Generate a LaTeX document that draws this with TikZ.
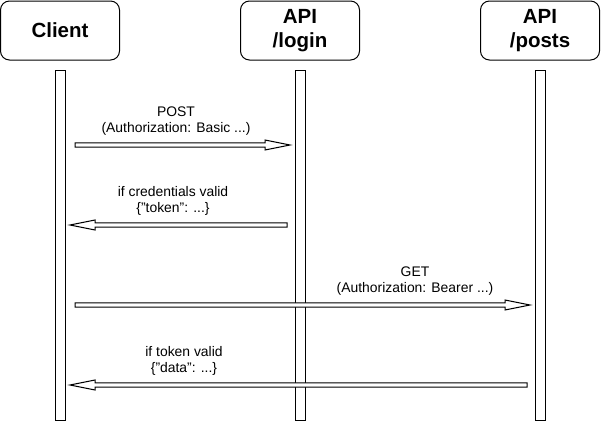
\documentclass[tikz,border=0pt]{standalone}
\usepackage{fontspec}
\setmainfont{Liberation Sans}
\usetikzlibrary{calc}
\tikzset{
  actor node/.style={
    rectangle,
    rounded corners=9pt,
    draw,
    line width=1pt,
    minimum width=119pt,
    minimum height=59pt,
    align=center,
    font=\fontsize{20.5}{24}\selectfont\bfseries,
  }
}
\tikzset{
  life node/.style={
    rectangle,
    draw,
    line width=1pt,
    minimum width=10pt,
    minimum height=350pt,
    inner sep=0pt,
  }
}
\tikzset{
  msg label/.style={
    align=center,
    inner sep=0pt,
    font=\fontsize{13.9}{16.5}\selectfont,
  }
}
\tikzset{
  message/.style={
    draw,
    fill=white,
    line width=1pt,
    to path={
      ($(\tikztostart)+(0,2.2pt)$)
      -- ($(\tikztotarget)!25pt!(\tikztostart)+(0,2.2pt)$)
      -- ($(\tikztotarget)!25pt!(\tikztostart)+(0,5pt)$)
      -- (\tikztotarget)
      -- ($(\tikztotarget)!25pt!(\tikztostart)+(0,-5pt)$)
      -- ($(\tikztotarget)!25pt!(\tikztostart)+(0,-2.2pt)$)
      -- ($(\tikztostart)+(0,-2.2pt)$)
      -- cycle
    },
  }
}

\begin{document}
\begin{tikzpicture}[
    x=1pt,
    y=-1pt,
    ]
  \useasboundingbox (0,0) rectangle (602,421);

  \node[actor node] (client) at (60,30.5) {Client};
  \node[actor node] (login) at (300,30.5) {API\\/login};
  \node[actor node] (posts) at (540,30.5) {API\\/posts};

  \foreach \x/\p in {client/60,login/300,posts/540}{
    \node[life node] (\x line) at (\p,245) {};
  }

  \coordinate (post from) at (75,145);
  \coordinate (post to) at (290,145);
  \coordinate (token from) at (287,225);
  \coordinate (token to) at (70,225);
  \coordinate (get from) at (75,305);
  \coordinate (get to) at (530,305);
  \coordinate (data from) at (527,385);
  \coordinate (data to) at (70,385);

  \foreach \a/\b in {post from/post to,token from/token to,get from/get to,data from/data to}{
    \draw[message] (\a) to (\b);
  }

  \node[msg label] (post label) at (176,121) {POST\\(Authorization: Basic ...)};
  \node[msg label] (token label) at (173,201) {if credentials valid\\\{"token": ...\}};
  \node[msg label] (get label) at (415,281) {GET\\(Authorization: Bearer ...)};
  \node[msg label] (data label) at (184,361) {if token valid\\\{"data": ...\}};

\end{tikzpicture}
\end{document}
